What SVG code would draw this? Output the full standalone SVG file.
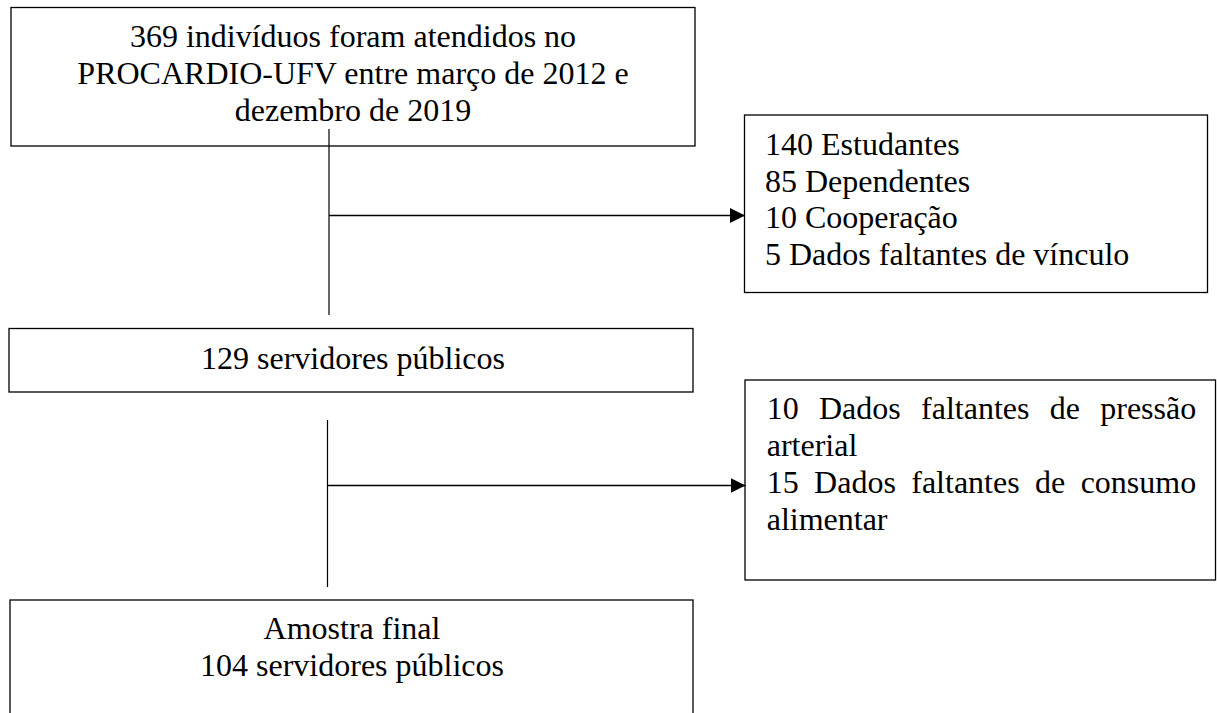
<svg xmlns="http://www.w3.org/2000/svg" width="1217" height="713" viewBox="0 0 1217 713">
  <style>
    .box { fill: #ffffff; stroke: #000000; stroke-width: 1.3; }
    .t { font-family: "Liberation Serif", "Times New Roman", serif; font-size: 32px; fill: #000000; }
    .c { text-anchor: middle; }
    .line { stroke: #000000; stroke-width: 1.2; fill: none; }
    .arrow { stroke: #000000; stroke-width: 1.7; fill: none; }
  </style>
  <defs>
    <marker id="ah" markerUnits="userSpaceOnUse" markerWidth="16" markerHeight="16" refX="15" refY="7.5" orient="auto">
      <path d="M0,0 L15,7.5 L0,15 z" fill="#000000"/>
    </marker>
  </defs>
  <rect x="0" y="0" width="1217" height="713" fill="#ffffff"/>

  <g id="n1">
    <rect class="box" x="11" y="7.5" width="684" height="138.5"/>
    <text class="t c" x="353" y="47">369 indivíduos foram atendidos no</text>
    <text class="t c" x="353" y="84">PROCARDIO-UFV entre março de 2012 e</text>
    <text class="t c" x="353" y="121">dezembro de 2019</text>
  </g>

  <g id="n2">
    <rect class="box" x="744.5" y="115" width="463" height="177.5"/>
    <text class="t" x="765" y="155">140 Estudantes</text>
    <text class="t" x="765" y="191.7">85 Dependentes</text>
    <text class="t" x="765" y="228.3">10 Cooperação</text>
    <text class="t" x="765" y="264.5">5 Dados faltantes de vínculo</text>
  </g>

  <g id="n3">
    <rect class="box" x="9" y="328.5" width="684" height="63.5"/>
    <text class="t c" x="353" y="369">129 servidores públicos</text>
  </g>

  <g id="n4">
    <rect class="box" x="745" y="380" width="470.5" height="200"/>
    <text class="t" x="766.7" y="419.3" word-spacing="12.3">10 Dados faltantes de pressão</text>
    <text class="t" x="766.7" y="456">arterial</text>
    <text class="t" x="766.7" y="492.7" word-spacing="7.4">15 Dados faltantes de consumo</text>
    <text class="t" x="766.7" y="530">alimentar</text>
  </g>

  <g id="n5">
    <rect class="box" x="10" y="600" width="683" height="130"/>
    <text class="t c" x="352" y="639">Amostra final</text>
    <text class="t c" x="352" y="676">104 servidores públicos</text>
  </g>

  <g id="connectors">
    <line class="line" x1="329" y1="129" x2="329" y2="315"/>
    <line class="arrow" x1="329" y1="215.5" x2="745" y2="215.5" marker-end="url(#ah)"/>
    <line class="line" x1="327.5" y1="420" x2="327.5" y2="587"/>
    <line class="arrow" x1="327.5" y1="485.5" x2="745.5" y2="485.5" marker-end="url(#ah)"/>
  </g>
</svg>
